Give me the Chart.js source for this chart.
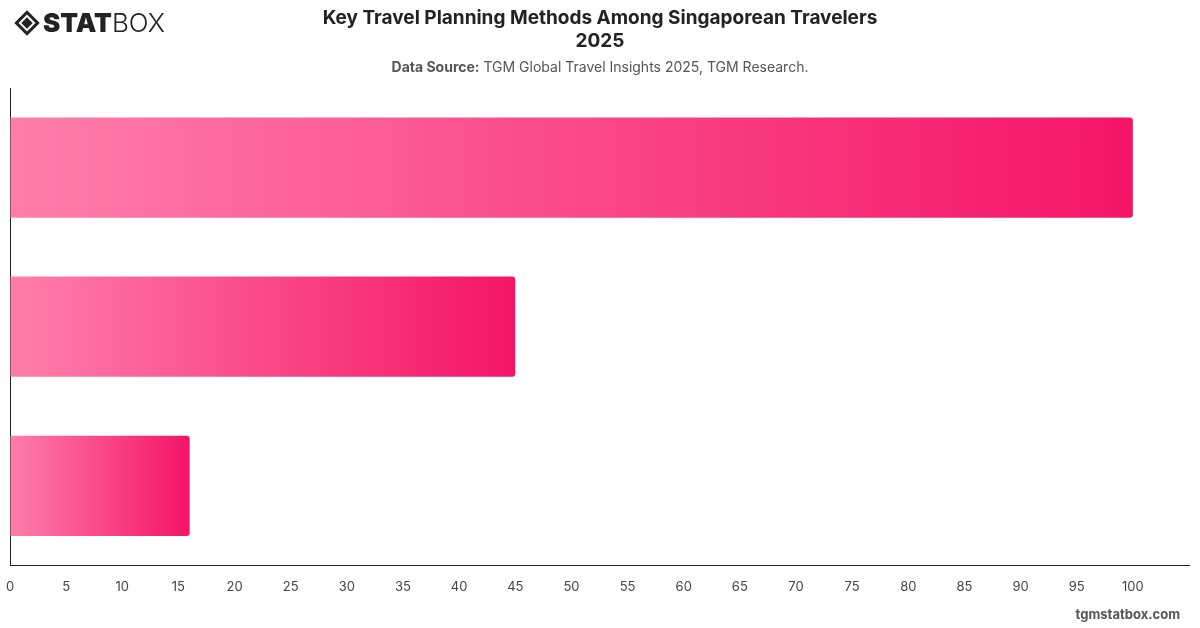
<!DOCTYPE html>
<html lang="en">
<head>
  <meta charset="UTF-8">
  <title>Key Travel Planning Methods Among Singaporean Travelers 2025</title>
  <script src="https://cdn.jsdelivr.net/npm/chart.js"></script>
  <style>
    html, body { margin: 0; padding: 0; background: #fff; }
    body { width: 1200px; height: 628px; position: relative; overflow: hidden; font-family: Inter, "Noto Sans", sans-serif; }
    #chartBox { position: absolute; left: 0; top: 0; width: 1200px; height: 628px; }
    .logo { position: absolute; left: 14px; top: 7px; display: flex; align-items: center; color: #222; }
    .logo .mark { width: 26px; height: 26px; position: relative; margin-right: 3px; }
    .logo .outer { position: absolute; left: 4px; top: 4px; width: 18px; height: 18px; border: 3px solid #222; transform: rotate(45deg); box-sizing: border-box; }
    .logo .inner { position: absolute; left: 9px; top: 9px; width: 8px; height: 8px; background: #222; transform: rotate(45deg); }
    .logo .stat { font-weight: 900; font-size: 26px; }
    .logo .box { font-weight: 300; font-size: 26px; }
    .title { position: absolute; left: 0; width: 1200px; top: 6px; text-align: center; font-size: 19px; font-weight: 700; color: #222; line-height: 23px; }
    .source { position: absolute; left: 0; width: 1200px; top: 58px; text-align: center; font-size: 14px; color: #555; }
    .source b { font-weight: 700; }
    .footer { position: absolute; right: 20px; top: 606px; font-size: 13px; font-weight: 700; color: #555; }
  </style>
</head>
<body>
  <div id="chartBox"><canvas id="travelChart" width="1200" height="628"></canvas></div>

  <div class="logo"><div class="mark"><div class="outer"></div><div class="inner"></div></div><span class="stat">STAT</span><span class="box">BOX</span></div>
  <div class="title">Key Travel Planning Methods Among Singaporean Travelers<br>2025</div>
  <div class="source"><b>Data Source:</b> TGM Global Travel Insights 2025, TGM Research.</div>
  <div class="footer">tgmstatbox.com</div>

  <script>
    // Datos del grafico
    const metodos = ['Method 1', 'Method 2', 'Method 3'];
    const valores = [100, 45, 16];
    const ticksX = [0, 5, 10, 15, 20, 25, 30, 35, 40, 45, 50, 55, 60, 65, 70, 75, 80, 85, 90, 95, 100];

    // Degradado por barra, de claro (izquierda) a fuerte (derecha)
    function colorBarra(context) {
      const chart = context.chart;
      const { ctx, chartArea, scales } = chart;
      if (!chartArea) return '#f5176a';
      const x0 = scales.x.getPixelForValue(0);
      const x1 = scales.x.getPixelForValue(context.raw || 1);
      const g = ctx.createLinearGradient(x0, 0, x1, 0);
      g.addColorStop(0, '#ff7eaa');
      g.addColorStop(1, '#f41466');
      return g;
    }

    const ctx = document.getElementById('travelChart').getContext('2d');
    new Chart(ctx, {
      type: 'bar',
      data: {
        labels: metodos,
        datasets: [{
          data: valores,
          backgroundColor: colorBarra,
          borderRadius: 3,
          barPercentage: 0.7,
          categoryPercentage: 0.9
        }]
      },
      options: {
        indexAxis: 'y',
        responsive: false,
        animation: false,
        layout: { padding: { top: 88, left: 10, right: 11, bottom: 30 } },
        plugins: {
          legend: { display: false },
          tooltip: { enabled: true }
        },
        scales: {
          x: {
            min: 0,
            max: 105,
            afterBuildTicks: axis => { axis.ticks = ticksX.map(v => ({ value: v })); },
            // marcas invisibles para separar las etiquetas del eje
            grid: { display: true, drawOnChartArea: false, drawTicks: true, tickLength: 11, color: 'rgba(0,0,0,0)' },
            border: { display: true, color: '#222', width: 1 },
            ticks: {
              padding: 3,
              color: '#444',
              font: { family: 'Inter', size: 13 }
            }
          },
          y: {
            afterFit: axis => { axis.width = 0; },
            grid: { display: false, drawTicks: false },
            border: { display: true, color: '#222', width: 1 },
            ticks: { display: false }
          }
        }
      }
    });
  </script>
</body>
</html>
